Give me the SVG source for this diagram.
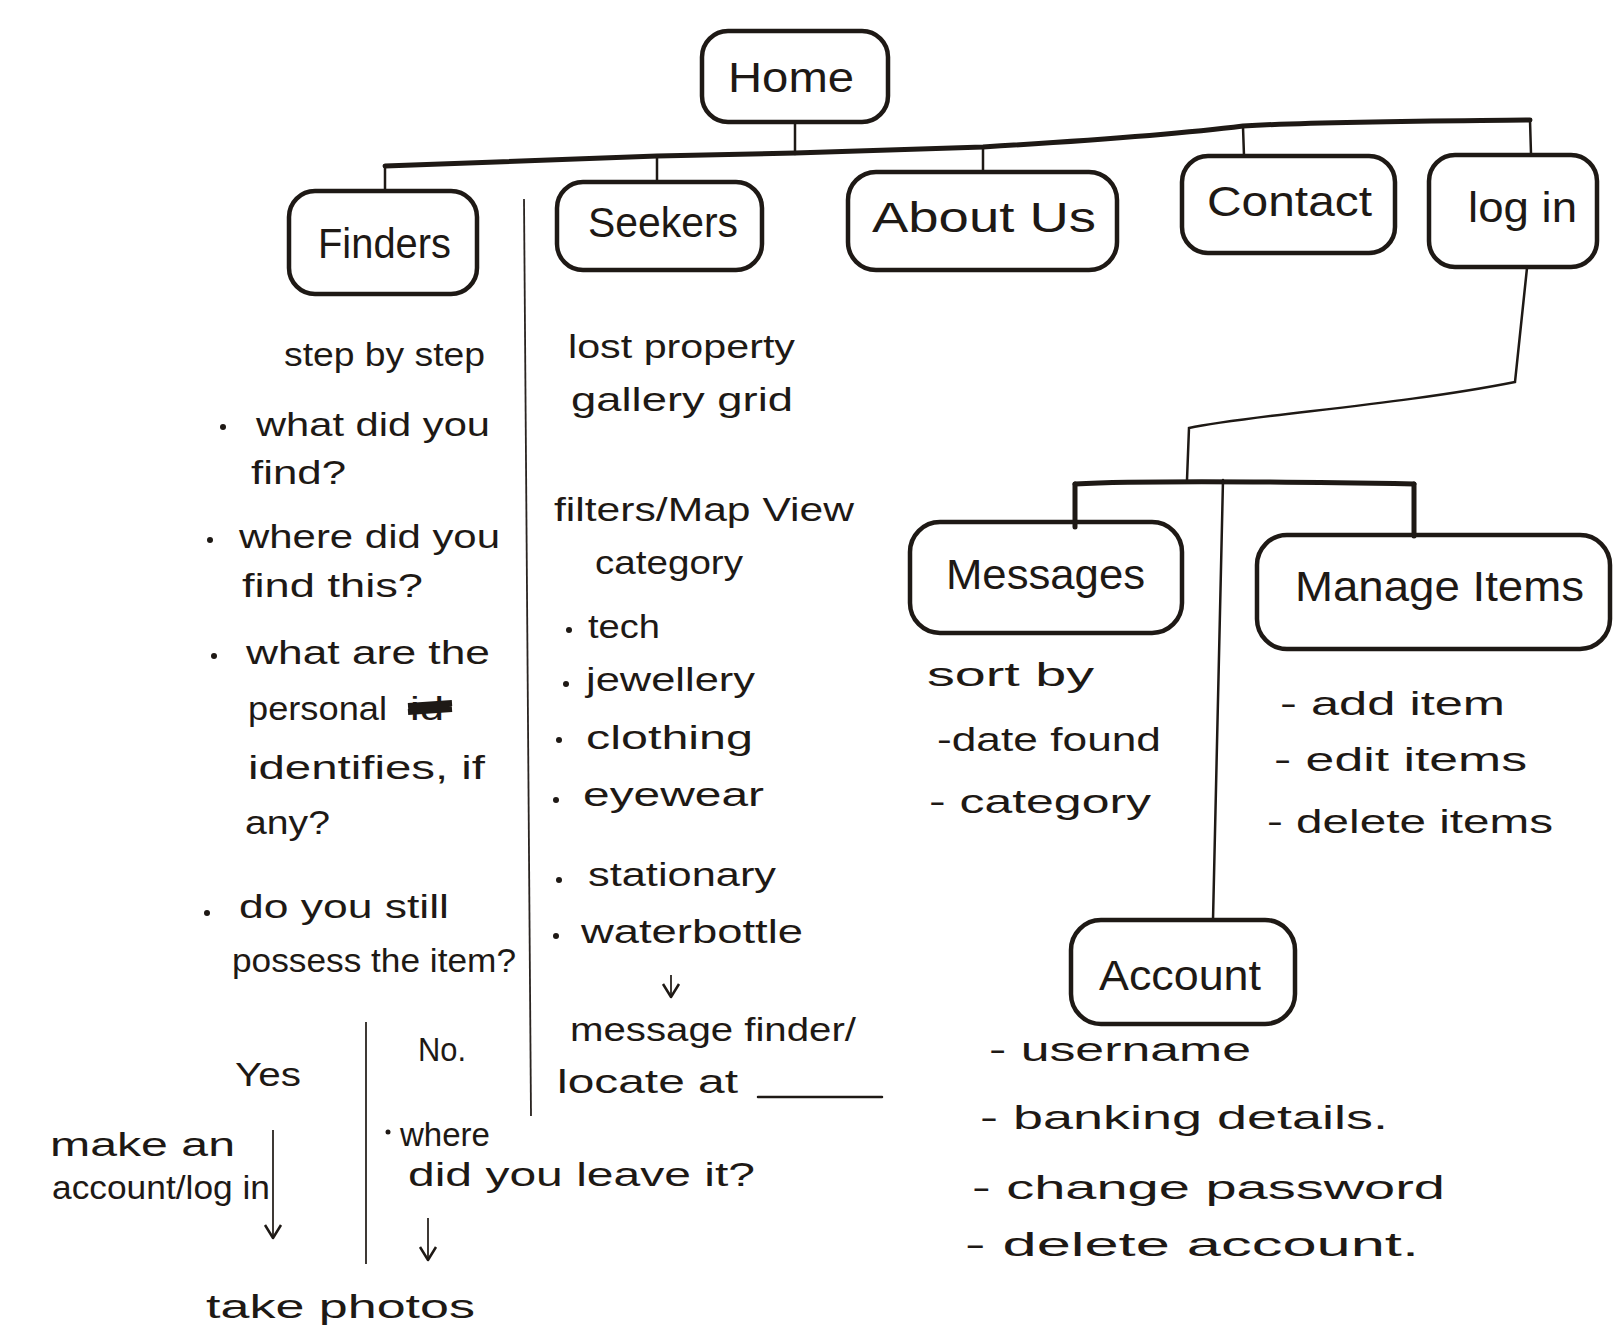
<svg xmlns="http://www.w3.org/2000/svg" width="1618" height="1330" viewBox="0 0 1618 1330">
<defs>
<style>
.box{fill:none;stroke:#1e1915;stroke-width:4.5}
.bus{fill:none;stroke:#1e1915;stroke-width:5;stroke-linecap:round;stroke-linejoin:round}
.thin{fill:none;stroke:#1e1915;stroke-width:2.5;stroke-linecap:round}
.hair{fill:none;stroke:#2a2420;stroke-width:1.8}
.lbl{font-family:"Liberation Sans",Arial,sans-serif;font-size:42px;fill:#1e1915}
.t{font-family:"Liberation Sans",Arial,sans-serif;font-size:34px;fill:#1e1915}
.dot{fill:#1e1915}
</style>
<marker id="ah" viewBox="0 0 20 20" refX="18" refY="10" markerWidth="20" markerHeight="20" markerUnits="userSpaceOnUse" orient="auto">
<path d="M5,2 L18,10 L5,18" fill="none" stroke="#1e1915" stroke-width="2.5" stroke-linejoin="round"/>
</marker>
</defs>
<rect width="1618" height="1330" fill="#ffffff"/>

<g id="connectors">
<path class="thin" d="M795,123 L795,154"/>
<path class="bus" d="M385,166 C500,162 600,158 657,156 L795,153 C880,150 940,148 983,147 C1100,140 1180,134 1243,126 C1330,121 1430,121 1530,120"/>
<path class="thin" d="M385,166 L385,190"/>
<path class="thin" d="M657,156 L657,181"/>
<path class="thin" d="M983,147 L983,172"/>
<path class="thin" d="M1243,127 L1244,156"/>
<path class="thin" d="M1530,120 L1531,154"/>
<path class="thin" d="M1527,268 L1515,382 C1400,405 1250,415 1189,428 L1187,480"/>
<path class="bus" d="M1075,484 C1150,480 1300,482 1414,484"/>
<path class="bus" d="M1075,484 L1075,527"/>
<path class="bus" d="M1414,484 L1414,536"/>
<path class="thin" d="M1223,480 L1213,920"/>
<path class="hair" d="M524,199 L531,1116"/>
<path class="hair" d="M366,1022 L366,1264"/>
<path class="thin" d="M758,1097 L882,1097"/>
<path class="hair" d="M273,1130 L273,1238" marker-end="url(#ah)"/>
<path class="hair" d="M428,1218 L428,1260" marker-end="url(#ah)"/>
<path class="hair" d="M671,975 L671,997" marker-end="url(#ah)"/>
</g>

<g id="home"><rect class="box" x="702" y="31" width="186" height="91" rx="26"/><text class="lbl" x="728" y="92" textLength="126" lengthAdjust="spacingAndGlyphs">Home</text></g>
<g id="finders"><rect class="box" x="289" y="191" width="188" height="103" rx="26"/><text class="lbl" x="318" y="258" textLength="133" lengthAdjust="spacingAndGlyphs">Finders</text></g>
<g id="seekers"><rect class="box" x="557" y="182" width="205" height="88" rx="26"/><text class="lbl" x="588" y="237" textLength="150" lengthAdjust="spacingAndGlyphs">Seekers</text></g>
<g id="about-us"><rect class="box" x="848" y="172" width="269" height="98" rx="28"/><text class="lbl" x="872" y="232" textLength="224" lengthAdjust="spacingAndGlyphs">About Us</text></g>
<g id="contact"><rect class="box" x="1182" y="156" width="213" height="97" rx="26"/><text class="lbl" x="1207" y="216" textLength="165" lengthAdjust="spacingAndGlyphs">Contact</text></g>
<g id="log-in"><rect class="box" x="1429" y="155" width="168" height="112" rx="26"/><text class="lbl" x="1468" y="222" textLength="109" lengthAdjust="spacingAndGlyphs">log in</text></g>
<g id="messages"><rect class="box" x="910" y="522" width="272" height="111" rx="30"/><text class="lbl" x="946" y="589" textLength="199" lengthAdjust="spacingAndGlyphs">Messages</text></g>
<g id="manage-items"><rect class="box" x="1257" y="535" width="353" height="114" rx="30"/><text class="lbl" x="1295" y="601" textLength="289" lengthAdjust="spacingAndGlyphs">Manage Items</text></g>
<g id="account"><rect class="box" x="1071" y="920" width="224" height="104" rx="30"/><text class="lbl" x="1099" y="990" textLength="162" lengthAdjust="spacingAndGlyphs">Account</text></g>

<g id="finders-notes">
<text class="t" x="284" y="366" textLength="201" lengthAdjust="spacingAndGlyphs">step by step</text>
<circle class="dot" cx="223" cy="427" r="3"/>
<text class="t" x="256" y="436" textLength="234" lengthAdjust="spacingAndGlyphs">what did you</text>
<text class="t" x="251" y="484" textLength="95" lengthAdjust="spacingAndGlyphs">find?</text>
<circle class="dot" cx="210" cy="540" r="3"/>
<text class="t" x="239" y="548" textLength="261" lengthAdjust="spacingAndGlyphs">where did you</text>
<text class="t" x="242" y="597" textLength="181" lengthAdjust="spacingAndGlyphs">find this?</text>
<circle class="dot" cx="214" cy="656" r="3"/>
<text class="t" x="246" y="664" textLength="244" lengthAdjust="spacingAndGlyphs">what are the</text>
<text class="t" x="248" y="720" textLength="139" lengthAdjust="spacingAndGlyphs">personal</text>
<text class="t" x="410" y="720" textLength="34" lengthAdjust="spacingAndGlyphs">id</text>
<path d="M408,706 L452,703 M408,712 L452,709" stroke="#1e1915" stroke-width="6" fill="none"/>
<text class="t" x="248" y="779" textLength="237" lengthAdjust="spacingAndGlyphs">identifies, if</text>
<text class="t" x="245" y="834" textLength="85" lengthAdjust="spacingAndGlyphs">any?</text>
<circle class="dot" cx="207" cy="913" r="3"/>
<text class="t" x="239" y="918" textLength="210" lengthAdjust="spacingAndGlyphs">do you still</text>
<text class="t" x="232" y="972" textLength="284" lengthAdjust="spacingAndGlyphs">possess the item?</text>
<text class="t" x="235" y="1086" textLength="66" lengthAdjust="spacingAndGlyphs">Yes</text>
<text class="t" x="418" y="1061" textLength="48" lengthAdjust="spacingAndGlyphs">No.</text>
<text class="t" x="50" y="1156" textLength="185" lengthAdjust="spacingAndGlyphs">make an</text>
<text class="t" x="52" y="1199" textLength="218" lengthAdjust="spacingAndGlyphs">account/log in</text>
<circle class="dot" cx="388" cy="1132" r="2.5"/>
<text class="t" x="400" y="1146" textLength="90" lengthAdjust="spacingAndGlyphs">where</text>
<text class="t" x="408" y="1186" textLength="347" lengthAdjust="spacingAndGlyphs">did you leave it?</text>
<text class="t" x="206" y="1318" textLength="269" lengthAdjust="spacingAndGlyphs">take photos</text>
</g>

<g id="seekers-notes">
<text class="t" x="568" y="358" textLength="227" lengthAdjust="spacingAndGlyphs">lost property</text>
<text class="t" x="571" y="411" textLength="222" lengthAdjust="spacingAndGlyphs">gallery grid</text>
<text class="t" x="554" y="521" textLength="300" lengthAdjust="spacingAndGlyphs">filters/Map View</text>
<text class="t" x="595" y="574" textLength="148" lengthAdjust="spacingAndGlyphs">category</text>
<circle class="dot" cx="569" cy="630" r="3"/>
<text class="t" x="588" y="638" textLength="72" lengthAdjust="spacingAndGlyphs">tech</text>
<circle class="dot" cx="566" cy="684" r="3"/>
<text class="t" x="586" y="691" textLength="169" lengthAdjust="spacingAndGlyphs">jewellery</text>
<circle class="dot" cx="559" cy="740" r="3"/>
<text class="t" x="586" y="749" textLength="167" lengthAdjust="spacingAndGlyphs">clothing</text>
<circle class="dot" cx="556" cy="800" r="3"/>
<text class="t" x="583" y="806" textLength="181" lengthAdjust="spacingAndGlyphs">eyewear</text>
<circle class="dot" cx="559" cy="880" r="3"/>
<text class="t" x="588" y="886" textLength="188" lengthAdjust="spacingAndGlyphs">stationary</text>
<circle class="dot" cx="556" cy="936" r="3"/>
<text class="t" x="581" y="943" textLength="222" lengthAdjust="spacingAndGlyphs">waterbottle</text>
<text class="t" x="570" y="1041" textLength="286" lengthAdjust="spacingAndGlyphs">message finder/</text>
<text class="t" x="557" y="1093" textLength="181" lengthAdjust="spacingAndGlyphs">locate at</text>
</g>

<g id="messages-notes">
<text class="t" x="927" y="686" textLength="167" lengthAdjust="spacingAndGlyphs">sort by</text>
<text class="t" x="937" y="751" textLength="224" lengthAdjust="spacingAndGlyphs">-date found</text>
<text class="t" x="929" y="813" textLength="222" lengthAdjust="spacingAndGlyphs">- category</text>
</g>

<g id="manage-items-notes">
<text class="t" x="1280" y="715" textLength="225" lengthAdjust="spacingAndGlyphs">- add item</text>
<text class="t" x="1274" y="771" textLength="253" lengthAdjust="spacingAndGlyphs">- edit items</text>
<text class="t" x="1267" y="833" textLength="286" lengthAdjust="spacingAndGlyphs">- delete items</text>
</g>

<g id="account-notes">
<text class="t" x="989" y="1061" textLength="262" lengthAdjust="spacingAndGlyphs">- username</text>
<text class="t" x="980" y="1129" textLength="408" lengthAdjust="spacingAndGlyphs">- banking details.</text>
<text class="t" x="972" y="1199" textLength="473" lengthAdjust="spacingAndGlyphs">- change password</text>
<text class="t" x="965" y="1256" textLength="454" lengthAdjust="spacingAndGlyphs">- delete account.</text>
</g>
</svg>
